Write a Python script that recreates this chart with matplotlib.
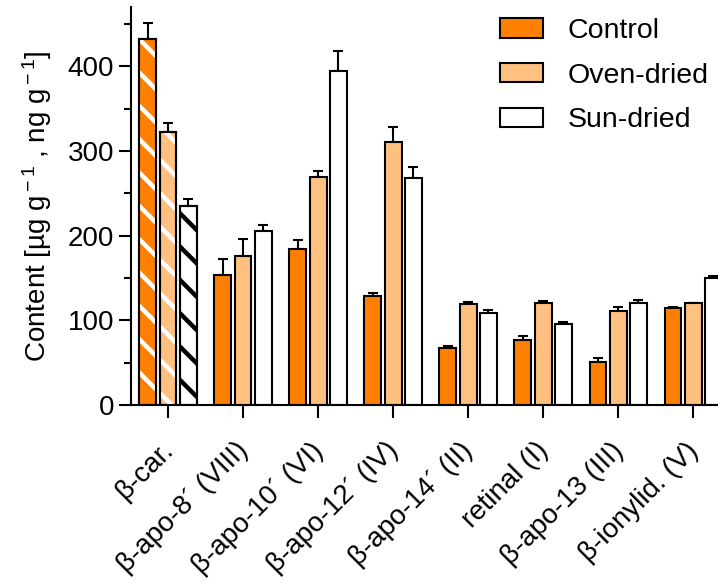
import numpy as np
import matplotlib
matplotlib.use("Agg")
import matplotlib.pyplot as plt
from matplotlib.transforms import ScaledTranslation

plt.rcParams["font.family"] = ["Liberation Sans", "DejaVu Sans"]
plt.rcParams["mathtext.fontset"] = "custom"
plt.rcParams["mathtext.rm"] = "Liberation Sans"
plt.rcParams["mathtext.it"] = "Liberation Sans"
plt.rcParams["hatch.linewidth"] = 3.2

# data
categories = ["β-car.", "β-apo-8´ (VIII)", "β-apo-10´ (VI)", "β-apo-12´ (IV)",
              "β-apo-14´ (II)", "retinal (I)", "β-apo-13 (III)", "β-ionylid. (V)"]
series_names = ["Control", "Oven-dried", "Sun-dried"]
control = [432, 154, 184, 129, 67, 77, 51, 114]
oven = [322, 176, 269, 311, 119, 121, 111, 120]
sun = [235, 206, 395, 268, 109, 96, 120, 150]
control_err = [19, 19, 11, 3, 3, 4, 5, 1.5]
oven_err = [11, 20, 7, 17, 2.5, 2, 5, 1]
sun_err = [8, 7, 23, 13, 3, 2.5, 4, 2]

colors = ["#FF8000", "#FFC080", "#FFFFFF"]
hatch_colors = ["white", "white", "black"]
LW = 1.5

fig = plt.figure(figsize=(7.18, 5.85), dpi=100)
ax = fig.add_axes([0.1825, 0.3077, 1 - 0.1825, 0.988 - 0.3077])

x = np.arange(len(categories))
width = 0.225
offsets = [-0.27, 0.0, 0.27]
values = [control, oven, sun]
errors = [control_err, oven_err, sun_err]

for i, (name, vals, errs) in enumerate(zip(series_names, values, errors)):
    pos = x + offsets[i]
    ax.bar(pos, vals, width, color=colors[i], edgecolor="black",
           linewidth=LW, label=name, zorder=2)
    # hatched first group (beta-carotene)
    ax.bar(pos[0], vals[0], width, color="none", edgecolor=hatch_colors[i],
           linewidth=0, hatch="\\", zorder=3)
    ax.bar(pos[0], vals[0], width, color="none", edgecolor="black",
           linewidth=LW, zorder=4)
    ax.errorbar(pos, vals, yerr=[np.zeros(len(errs)), errs], fmt="none",
                ecolor="black", elinewidth=LW, capsize=3.6, capthick=LW,
                zorder=1)

ax.set_xlim(-0.493, 7.33)
ax.set_ylim(0, 470)
ax.set_yticks([0, 100, 200, 300, 400])
ax.set_yticks(np.arange(50, 470, 100), minor=True)
ax.set_xticks(x)
ax.set_xticklabels(categories, rotation=45, ha="right", va="center",
                   rotation_mode="anchor")

for side in ["top", "right"]:
    ax.spines[side].set_visible(False)
for side in ["left", "bottom"]:
    ax.spines[side].set_linewidth(LW)

ax.tick_params(axis="both", which="major", direction="out", length=9,
               width=LW, labelsize=20, pad=3)
ax.tick_params(axis="y", which="minor", direction="out", length=5, width=LW)
ax.tick_params(axis="x", which="major", pad=21)
shift = ScaledTranslation(1 / 100, 0, fig.dpi_scale_trans)
for lab in ax.get_xticklabels():
    lab.set_transform(lab.get_transform() + shift)

ax.set_ylabel(r"Content [µg g$^{\rm -1}$ , ng g$^{\rm -1}$]", fontsize=20,
              labelpad=10)

ax.legend(loc="upper left", bbox_to_anchor=(0.6286, 0.972), frameon=False,
          fontsize=20.5, handlelength=1.5, handleheight=0.67,
          handletextpad=0.88, labelspacing=0.65, borderpad=0, borderaxespad=0)

fig.savefig("out.png", dpi=100)
